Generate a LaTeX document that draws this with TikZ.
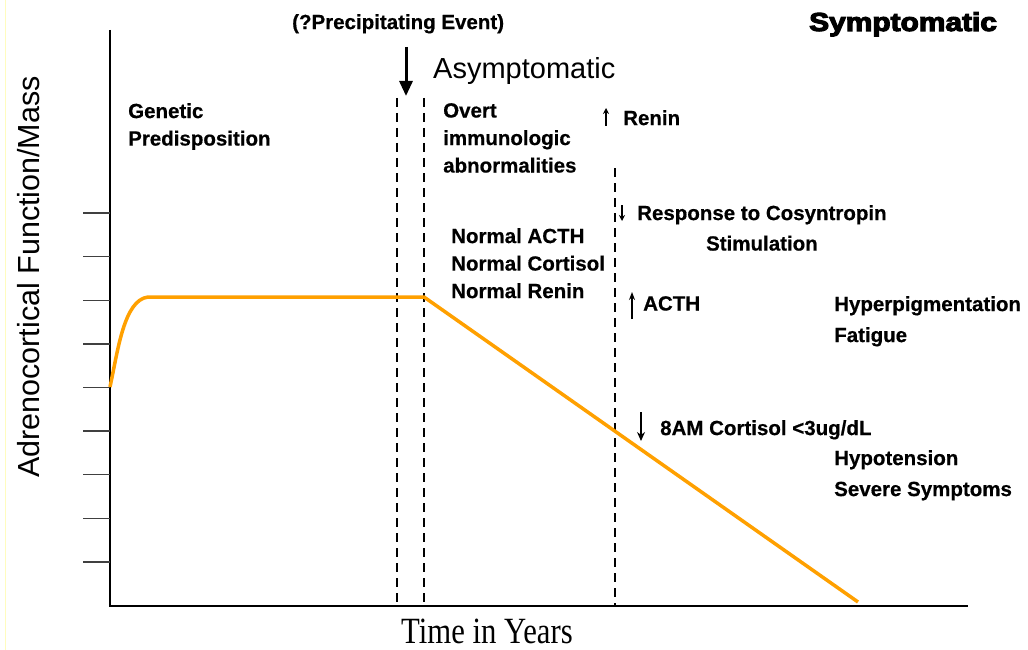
\documentclass[tikz,border=0pt]{standalone}
\usepackage{fontspec}
\setmainfont{Liberation Sans}
\newfontfamily\timesfont{Liberation Serif}
\newfontfamily\notefont{Liberation Sans Bold}[FakeBold=0.5]
\newfontfamily\heavyfont{Liberation Sans Bold}[FakeBold=4]
\usetikzlibrary{arrows.meta}
\definecolor{decline}{RGB}{255,160,0}

\tikzset{
  note/.style={font=\notefont\fontsize{20.5}{27.5}\selectfont, align=left, inner sep=0pt, anchor=north west},
  phase/.style={dash pattern=on 9pt off 6pt, line width=1.5pt},
  tinyarrow/.style={line width=1.2pt, -{Stealth[length=6pt,width=6pt]}},
  bigarrow/.style={line width=3pt, -{Triangle[length=15pt,width=13pt]}}
}

\begin{document}
\begin{tikzpicture}[x=1pt,y=-1pt]
    \useasboundingbox (0,0) rectangle (1028,650);
    \draw[yellow!25, line width=1pt] (5,0) -- (5,650);
    % axes and ticks
    \coordinate (top) at (110,30);
    \coordinate (O) at (110,606);
    \coordinate (right) at (968,606);
    \draw[line width=1.3pt] (top) -- (O) -- (right);
    \foreach \k in {0,...,8}
      \draw[line width=1.3pt, black!75] (83,562-43.625*\k) -- (110,562-43.625*\k);
    % phase boundaries
    \draw[phase] (397,98) -- (397,606);
    \draw[phase] (424,98) -- (424,606);
    \draw[phase] (615,168) -- (615,606);
    % adrenal function
    \draw[decline, line width=3.5pt, line join=round]
      (110,387) .. controls (118,350) and (124,300) .. (148,297)
      -- (424,297) -- (858,602);
    % labels
    \node[note] (event) at (292,14) {(?Precipitating Event)};
    \coordinate (evtop) at (406,47);
    \coordinate (evtip) at (406,96);
    \draw[bigarrow] (evtop) -- (evtip);
    \node[font=\fontsize{29}{31}\selectfont, inner sep=0pt, anchor=base west] (asym) at (433,79) {Asymptomatic};
    \node[font=\heavyfont\fontsize{26}{28}\selectfont, inner sep=0pt, anchor=base west] (sym) at (809,31) {\scalebox{1.15}[1]{Symptomatic}};
    \node[note] (genetic) at (128,103) {Genetic\\Predisposition};
    \node[note] (overt) at (443,103) {Overt\\immunologic\\abnormalities};
    \node[note] (normal) at (451,228) {Normal ACTH\\Normal Cortisol\\Normal Renin};
    \node[note] (renin) at (623,110) {Renin};
    \draw[tinyarrow] (606,126) -- (606,108);
    \node[note, align=center] (cosyn) at (637,205) {Response to Cosyntropin\\[3pt]Stimulation};
    \draw[tinyarrow] (622,205) -- (622,221);
    \node[note] (acth) at (643,296) {ACTH};
    \draw[line width=1.4pt, -{Stealth[length=8pt,width=6pt]}] (632,319) -- (632,292);
    \node[note] (hyper) at (834,296) {Hyperpigmentation\\[3.5pt]Fatigue};
    \node[note] (cortisol) at (660,420) {8AM Cortisol <3ug/dL};
    \draw[line width=1.4pt, -{Stealth[length=9pt,width=8pt]}] (641,412) -- (641,441);
    \node[note] (hypo) at (834,450) {Hypotension\\[3.5pt]Severe Symptoms};
    % axis titles
    \node[font=\fontsize{30.5}{32}\selectfont, rotate=90, inner sep=0pt] (ylab) at (29,277) {Adrenocortical Function/Mass};
    \node[font=\timesfont\fontsize{37}{39}\selectfont, inner sep=0pt] (xlab) at (487,631) {\scalebox{0.83}[1]{Time in Years}};
\end{tikzpicture}
\end{document}
